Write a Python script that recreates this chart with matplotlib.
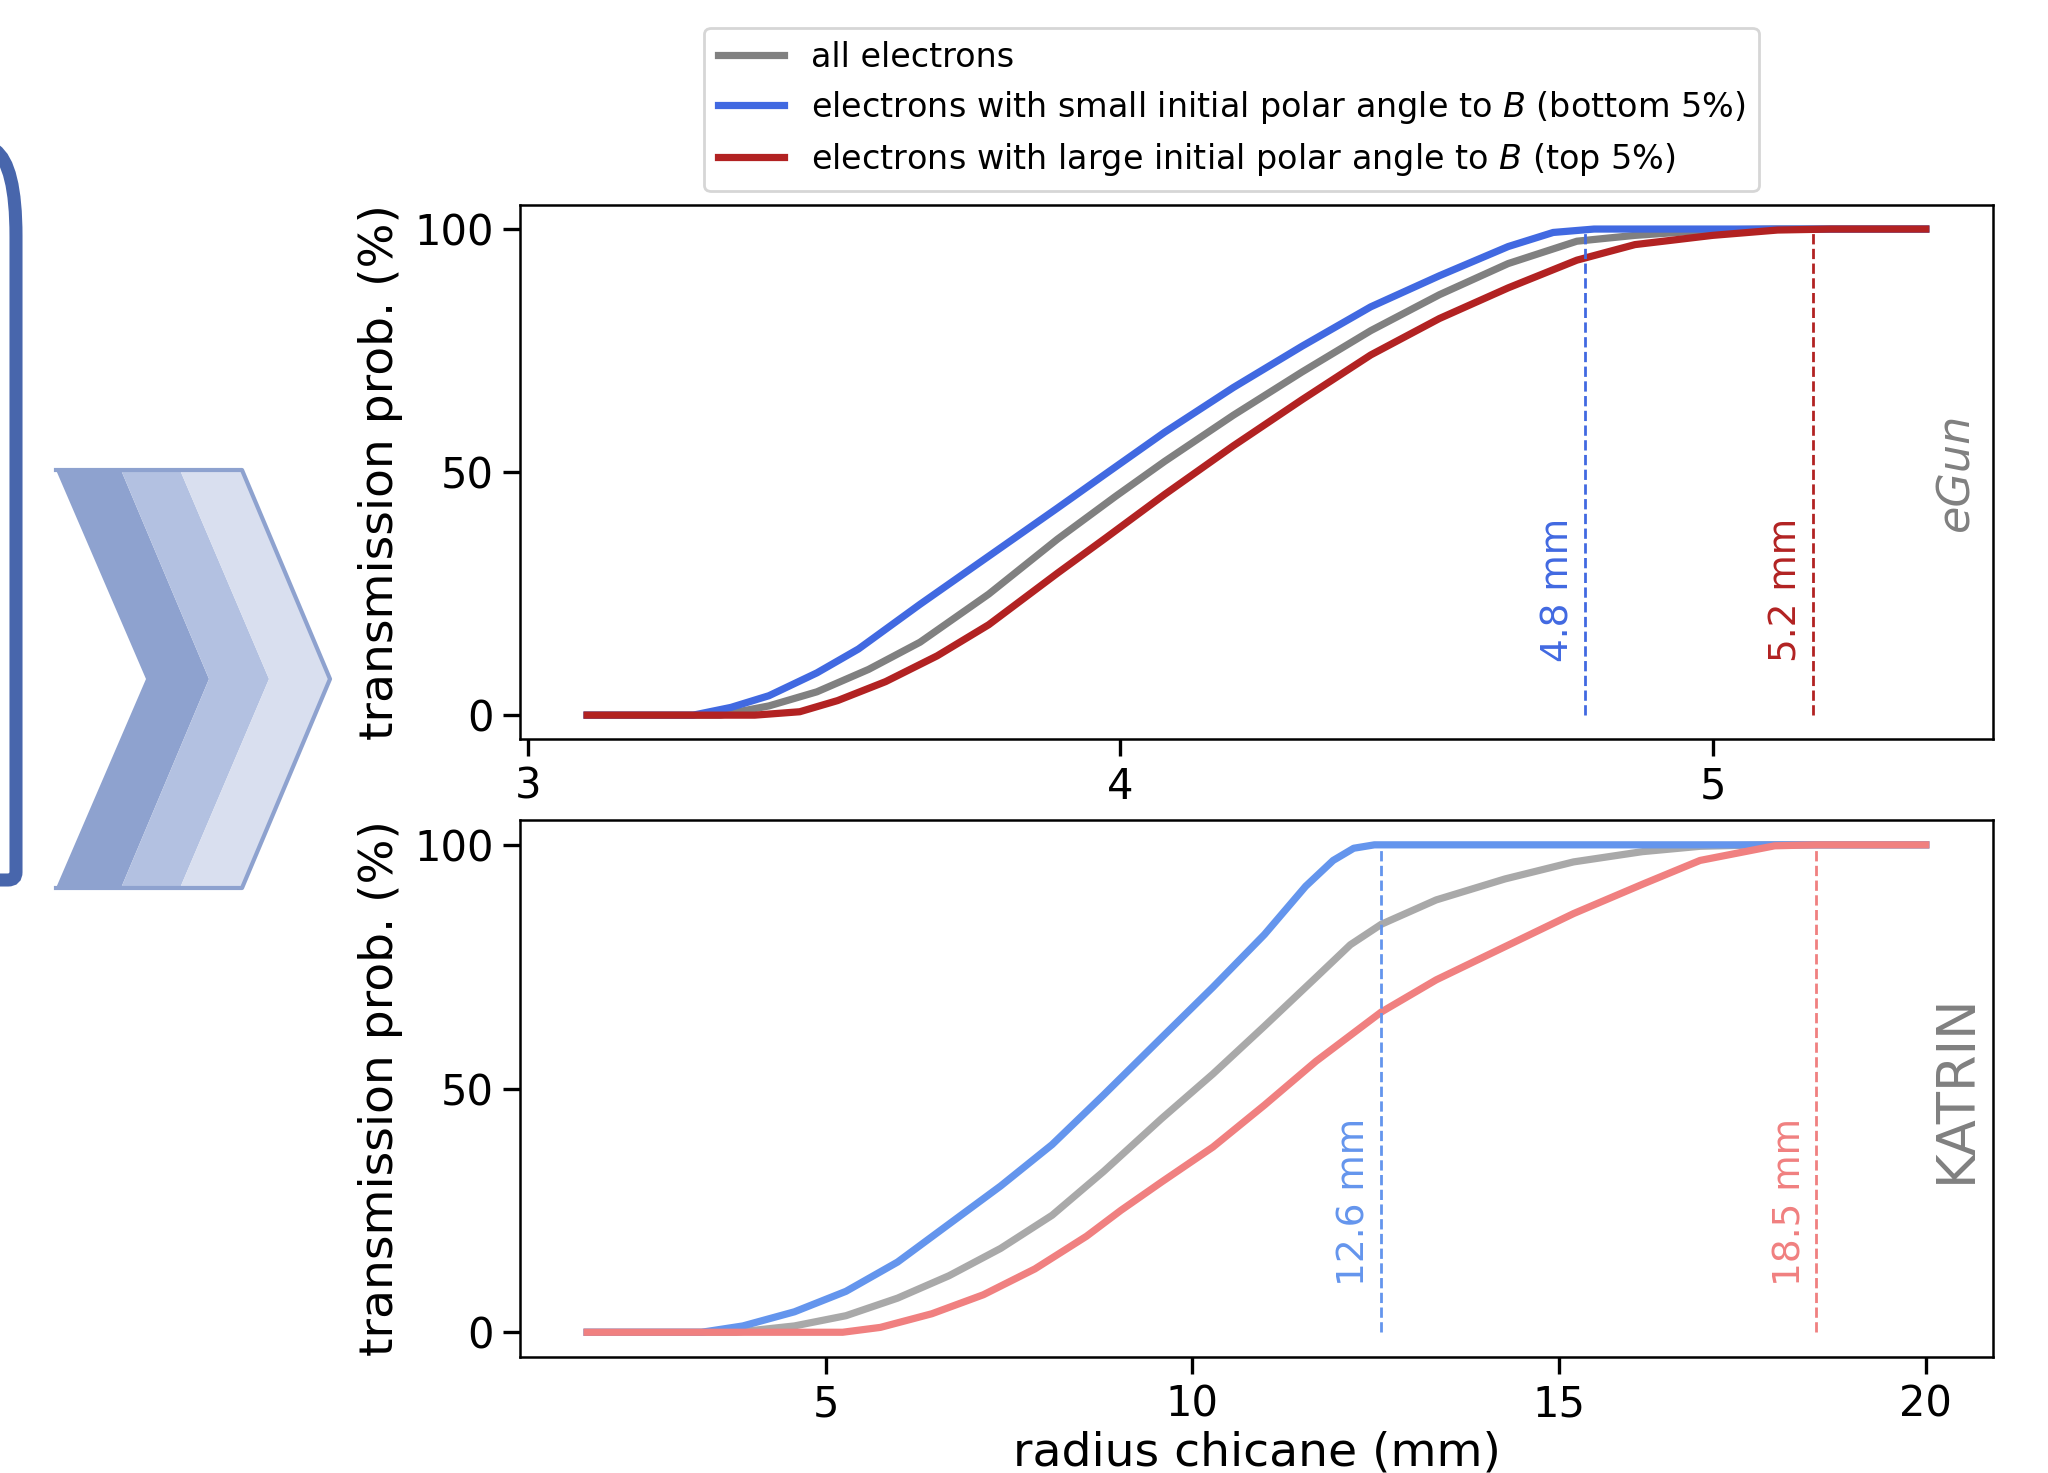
import matplotlib
matplotlib.use("Agg")
import matplotlib.pyplot as plt
from matplotlib.path import Path
from matplotlib.patches import PathPatch, Polygon

plt.rcParams['font.family'] = ['DejaVu Sans']

# eGun panel (radius in mm, transmission in %)
egun_all_x = [3.10, 3.325, 3.407, 3.488, 3.575, 3.662, 3.778, 3.894, 3.992, 4.075, 4.191, 4.307,
              4.423, 4.539, 4.655, 4.771, 4.869, 5.00, 5.10, 5.36]
egun_all_y = [0, 0, 1.9, 4.8, 9.4, 15.0, 24.9, 36.2, 45.0, 52.2, 61.7, 70.6,
              79.1, 86.5, 92.9, 97.5, 98.7, 99.8, 100, 100]
egun_small_x = [3.10, 3.279, 3.343, 3.407, 3.488, 3.558, 3.662, 3.778, 3.894, 3.975, 4.075, 4.191,
                4.307, 4.423, 4.539, 4.655, 4.731, 4.800, 5.36]
egun_small_y = [0, 0, 1.6, 4.0, 8.7, 13.6, 22.8, 32.7, 42.6, 49.6, 58.2, 67.4,
                75.9, 84.0, 90.4, 96.4, 99.3, 100, 100]
egun_large_x = [3.10, 3.383, 3.459, 3.523, 3.604, 3.691, 3.778, 3.894, 3.975, 4.075, 4.191, 4.307,
                4.423, 4.539, 4.655, 4.771, 4.869, 5.00, 5.11, 5.20, 5.36]
egun_large_y = [0, 0, 0.7, 3.0, 6.9, 12.2, 18.6, 29.2, 36.4, 45.4, 55.4, 64.9,
                74.1, 81.6, 87.9, 93.6, 96.8, 98.7, 99.8, 100, 100]
egun_cut = [4.785, 5.17]
egun_cut_labels = ['4.8 mm', '5.2 mm']

# KATRIN panel
kat_all_x = [1.75, 3.78, 4.577, 5.279, 5.982, 6.684, 7.387, 8.089, 8.792, 9.579, 10.282, 10.984,
             11.687, 12.155, 12.577, 13.326, 14.263, 15.199, 16.136, 16.923, 17.8, 20.0]
kat_all_y = [0, 0, 1.3, 3.4, 7.0, 11.6, 17.2, 24.0, 33.0, 43.8, 53.0, 62.8,
             72.8, 79.5, 83.7, 88.7, 93.0, 96.5, 98.6, 99.7, 100, 100]
kat_small_x = [1.75, 3.31, 3.874, 4.577, 5.279, 5.982, 6.684, 7.387, 8.089, 8.792, 9.579, 10.282,
               10.984, 11.546, 11.921, 12.201, 12.483, 20.0]
kat_small_y = [0, 0, 1.3, 4.2, 8.4, 14.4, 22.2, 30.0, 38.5, 48.7, 60.4, 70.8,
               81.6, 91.5, 96.8, 99.3, 100, 100]
kat_large_x = [1.75, 5.233, 5.748, 6.45, 7.153, 7.855, 8.558, 9.026, 9.579, 10.282, 10.984, 11.687,
               12.577, 13.326, 14.263, 15.199, 16.136, 16.923, 17.94, 18.5, 20.0]
kat_large_y = [0, 0, 1.0, 3.8, 7.7, 13.0, 19.7, 25.0, 30.8, 38.0, 46.6, 55.6,
               65.7, 72.3, 79.1, 85.9, 91.9, 96.8, 99.8, 100, 100]
kat_cut = [12.57, 18.51]
kat_cut_labels = ['12.6 mm', '18.5 mm']

labels = ['all electrons',
          'electrons with small initial polar angle to $B$ (bottom 5%)',
          'electrons with large initial polar angle to $B$ (top 5%)']

fig = plt.figure(figsize=(10.24, 7.365), dpi=200)

# decoration on the left (part of a bigger figure)
bg = fig.add_axes([0, 0, 1, 1], zorder=-1)
bg.set_xlim(0, 2048)
bg.set_ylim(1473, 0)
bg.axis('off')
verts = [(-5, 150), (16, 165), (16, 236), (16, 872), (16, 880), (8, 880), (-5, 880)]
codes = [Path.MOVETO, Path.CURVE3, Path.CURVE3, Path.LINETO, Path.CURVE3, Path.CURVE3, Path.LINETO]
bg.add_patch(PathPatch(Path(verts, codes), fill=False, lw=4.7, ec='#4866AC', capstyle='butt'))
bg.add_patch(Polygon([(56, 470), (121, 470), (209, 679), (121, 888), (56, 888), (146, 679)],
                     closed=True, fc='#8EA2CF', ec='none'))
bg.add_patch(Polygon([(121, 470), (180, 470), (269, 679), (180, 888), (121, 888), (209, 679)],
                     closed=True, fc='#B3C1E1', ec='none'))
bg.add_patch(Polygon([(180, 470), (242, 470), (330, 679), (242, 888), (180, 888), (269, 679)],
                     closed=True, fc='#D9DFEF', ec='none'))
bg.plot([56, 242, 330, 242, 56], [470, 470, 679, 888, 888], color='#8EA2CF', lw=1.5)

ax1 = fig.add_axes([0.254, 0.498, 0.719, 0.363])
ax2 = fig.add_axes([0.254, 0.079, 0.719, 0.364])

lw = 2.6
ax1.plot(egun_all_x, egun_all_y, color='grey', lw=lw, label=labels[0])
ax1.plot(egun_small_x, egun_small_y, color='royalblue', lw=lw, label=labels[1])
ax1.plot(egun_large_x, egun_large_y, color='firebrick', lw=lw, label=labels[2])
for xc, lab, c in zip(egun_cut, egun_cut_labels, ['royalblue', 'firebrick']):
    ax1.plot([xc, xc], [0, 100], ls='--', lw=1.0, color=c)
    ax1.annotate(lab, (xc, 11), xytext=(-3, 0), textcoords='offset points',
                 rotation=90, ha='right', va='bottom', color=c, fontsize=13.5)
ax1.text(0.975, 0.5, 'eGun', transform=ax1.transAxes, rotation=90, ha='center', va='center',
         color='grey', fontsize=16, style='italic')
ax1.set_xticks([3, 4, 5])

ax2.plot(kat_all_x, kat_all_y, color='darkgrey', lw=lw)
ax2.plot(kat_small_x, kat_small_y, color='cornflowerblue', lw=lw)
ax2.plot(kat_large_x, kat_large_y, color='lightcoral', lw=lw)
for xc, lab, c in zip(kat_cut, kat_cut_labels, ['cornflowerblue', 'lightcoral']):
    ax2.plot([xc, xc], [0, 100], ls='--', lw=1.0, color=c)
    ax2.annotate(lab, (xc, 9.5), xytext=(-3, 0), textcoords='offset points',
                 rotation=90, ha='right', va='bottom', color=c, fontsize=13.5)
ax2.text(0.975, 0.5, 'KATRIN', transform=ax2.transAxes, rotation=90, ha='center', va='center',
         color='grey', fontsize=19)
ax2.set_xticks([5, 10, 15, 20])
ax2.set_xlabel('radius chicane (mm)', fontsize=17, labelpad=2)

for ax in (ax1, ax2):
    ax.set_yticks([0, 50, 100])
    ax.set_ylabel('transmission prob. (%)', fontsize=17)
    ax.tick_params(direction='out', length=6, width=1.2, labelsize=15)
    for sp in ax.spines.values():
        sp.set_linewidth(0.9)
    for ln in ax.lines:
        ln.set_solid_joinstyle('round')

ax1.legend(loc='lower center', bbox_to_anchor=(0.483, 1.025), borderaxespad=0, fontsize=12,
           labelspacing=0.45)

fig.savefig('out.png', dpi=200)
